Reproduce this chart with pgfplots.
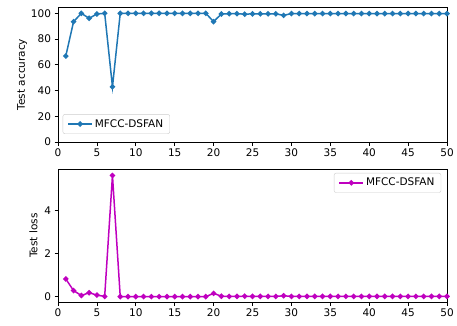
\documentclass[border=0pt]{standalone}
\usepackage{fontspec}
\setmainfont{DejaVu Sans}
\usepackage{pgfplots}
\pgfplotsset{compat=1.18}
\definecolor{tabblue}{HTML}{1F77B4}
\definecolor{mplm}{rgb}{0.75,0,0.75}
\pgfplotsset{
  common/.style={
    scale only axis, width=389pt, anchor=south west,
    xmin=0, xmax=50, xtick={0,5,...,50},
    tick align=outside, tick pos=left,
    major tick length=3.5pt,
    every tick/.style={black, line width=0.8pt},
    axis line style={line width=0.8pt},
    /pgf/number format/assume math mode=true,
    tick label style={font=\fontsize{10.5}{12}\selectfont},
    label style={font=\fontsize{10.5}{12}\selectfont},
    legend style={font=\fontsize{10.5}{12}\selectfont, draw=black!20, rounded corners=2pt, inner xsep=4.5pt, inner ysep=3pt},
    legend cell align=left,
    legend image code/.code={
      \draw[mark repeat=2,mark phase=2] plot coordinates {(0pt,0pt) (12pt,0pt) (24pt,0pt)};
    },
  },
}
\begin{document}
\begin{tikzpicture}[x=1pt,y=1pt]
\path[use as bounding box] (0,0) rectangle (457,325);
\begin{axis}[common, at={(58pt,183pt)}, height=135pt,
  ymin=0, ymax=104.9, ytick={0,20,...,100},
  ylabel={Test accuracy}, ylabel shift=-3pt,
  legend style={at={(0.012,0.06)}, anchor=south west}]
\addplot[color=tabblue, line width=1.5pt, mark=*, mark size=1.9pt] coordinates {
(1,66.8) (2,93.5) (3,100) (4,96.1) (5,99.5) (6,100) (7,42.9) (8,100) (9,100) (10,100)
(11,100) (12,100) (13,100) (14,100) (15,100) (16,100) (17,100) (18,100) (19,100) (20,93.5)
(21,99.5) (22,99.7) (23,99.7) (24,99.3) (25,99.6) (26,99.6) (27,99.6) (28,99.6) (29,98.4) (30,99.8)
(31,99.8) (32,99.8) (33,99.8) (34,99.8) (35,99.8) (36,99.8) (37,99.8) (38,99.8) (39,99.8) (40,99.8)
(41,99.8) (42,99.8) (43,99.8) (44,99.8) (45,99.8) (46,99.8) (47,99.8) (48,99.8) (49,99.8) (50,99.8)
};
\addlegendentry{MFCC-DSFAN}
\end{axis}
\begin{axis}[common, at={(58pt,23pt)}, height=133pt,
  ymin=-0.25, ymax=5.92, ytick={0,2,4},
  ylabel={Test loss},
  legend style={at={(0.985,0.97)}, anchor=north east}]
\addplot[color=mplm, line width=1.5pt, mark=*, mark size=1.9pt] coordinates {
(1,0.82) (2,0.28) (3,0.05) (4,0.18) (5,0.07) (6,0.01) (7,5.62) (8,0.0) (9,0.0) (10,0.0)
(11,0.0) (12,0.0) (13,0.0) (14,0.0) (15,0.0) (16,0.0) (17,0.0) (18,0.0) (19,0.0) (20,0.15)
(21,0.02) (22,0.01) (23,0.01) (24,0.02) (25,0.01) (26,0.01) (27,0.01) (28,0.01) (29,0.04) (30,0.01)
(31,0.01) (32,0.01) (33,0.01) (34,0.01) (35,0.01) (36,0.01) (37,0.01) (38,0.01) (39,0.01) (40,0.01)
(41,0.01) (42,0.01) (43,0.01) (44,0.01) (45,0.01) (46,0.01) (47,0.01) (48,0.01) (49,0.01) (50,0.01)
};
\addlegendentry{MFCC-DSFAN}
\end{axis}
\end{tikzpicture}
\end{document}
